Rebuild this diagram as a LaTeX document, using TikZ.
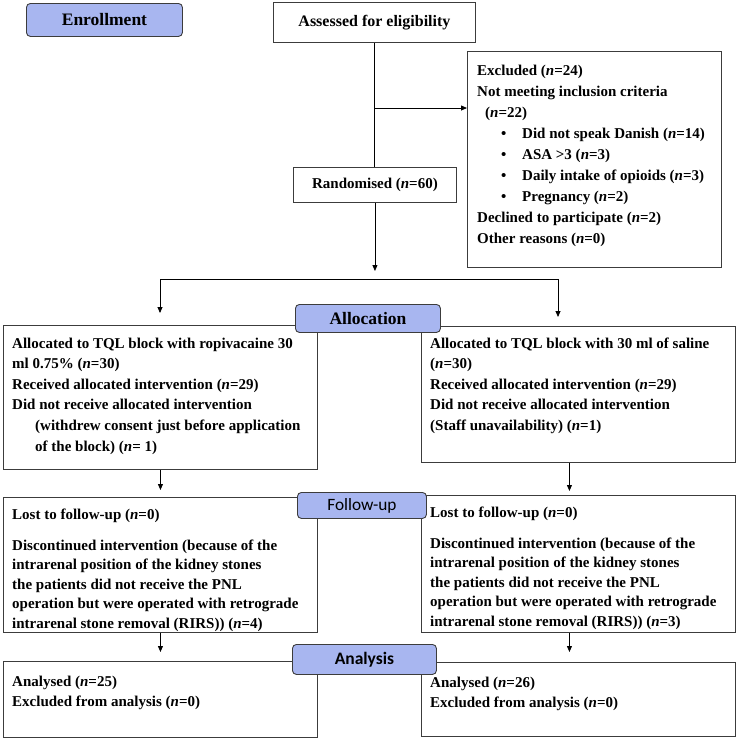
\documentclass[tikz,border=0pt]{standalone}
\usepackage{fontspec}
\setmainfont{Liberation Serif}
\newfontfamily\cali{Carlito}
\usetikzlibrary{arrows.meta}
\definecolor{lblue}{RGB}{168,182,240}
\definecolor{edgec}{RGB}{60,60,60}
\begin{document}
\begin{tikzpicture}[x=1pt,y=-1pt,
  box/.style={draw=edgec, line width=0.9pt, inner sep=0pt, anchor=north west, font=\fontsize{15}{18}\selectfont\bfseries},
  lbl/.style={draw=edgec, fill=lblue, rounded corners=4pt, line width=0.9pt, inner sep=0pt, anchor=north west},
  txt/.style={anchor=north west, inner sep=0pt, align=left},
  arr/.style={-{Triangle[length=6pt,width=5pt]}, draw=black, line width=0.8pt},
  ln/.style={draw=black, line width=0.8pt}]
\useasboundingbox (0,0) rectangle (738,740);
\fill[white] (0,0) rectangle (738,740);

% boxes
\node[box, minimum width=202pt, minimum height=40pt, font=\fontsize{16}{18}\selectfont\bfseries] (ass) at (273,2) {Assessed for eligibility};
\node[box, minimum width=254pt, minimum height=216pt] (exc) at (467,51) {};
\node[box, minimum width=163pt, minimum height=35pt] (rnd) at (293,167) {Randomised (\textit{n}=60)};
\node[box, minimum width=314pt, minimum height=144pt] (la) at (3,325) {};
\node[box, minimum width=314pt, minimum height=136pt] (ra) at (421,326) {};
\node[box, minimum width=314pt, minimum height=135pt] (lf) at (3,497) {};
\node[box, minimum width=314pt, minimum height=137pt] (rf) at (421,495) {};
\node[box, minimum width=314pt, minimum height=76pt] (lan) at (3,661) {};
\node[box, minimum width=314pt, minimum height=74pt] (ran) at (421,662) {};

% texts
\node[txt, font=\fontsize{15}{21}\selectfont\bfseries] (excT) at (477,60.5) {\strut Excluded (\textit{n}=24)\\
Not meeting inclusion criteria\\
\hspace*{8pt}(\textit{n}=22)\\
\hspace*{24pt}\makebox[21pt][l]{•}Did not speak Danish (\textit{n}=14)\\
\hspace*{24pt}\makebox[21pt][l]{•}ASA >3 (\textit{n}=3)\\
\hspace*{24pt}\makebox[21pt][l]{•}Daily intake of opioids (\textit{n}=3)\\
\hspace*{24pt}\makebox[21pt][l]{•}Pregnancy (\textit{n}=2)\\
Declined to participate (\textit{n}=2)\\
Other reasons (\textit{n}=0)};

\node[txt, font=\fontsize{15}{20.6}\selectfont\bfseries] (laT) at (12,333.5) {\strut Allocated to TQL block with ropivacaine 30\\
ml 0.75\% (\textit{n}=30)\\
Received allocated intervention (\textit{n}=29)\\
Did not receive allocated intervention\\
\hspace*{23pt}(withdrew consent just before application\\
\hspace*{23pt}of the block) (\textit{n}= 1)};

\node[txt, font=\fontsize{15}{20.6}\selectfont\bfseries] (raT) at (430,333.5) {\strut Allocated to TQL block with 30 ml of saline\\
(\textit{n}=30)\\
Received allocated intervention (\textit{n}=29)\\
Did not receive allocated intervention\\
(Staff unavailability) (\textit{n}=1)};

\node[txt, font=\fontsize{15}{19.5}\selectfont\bfseries] (lfT) at (12,505.3) {\strut Lost to follow-up (\textit{n}=0)\\[11.5pt]
Discontinued intervention (because of the\\
intrarenal position of the kidney stones\\
the patients did not receive the PNL\\
operation but were operated with retrograde\\
intrarenal stone removal (RIRS)) (\textit{n}=4)};

\node[txt, font=\fontsize{15}{19.5}\selectfont\bfseries] (rfT) at (430,503.3) {\strut Lost to follow-up (\textit{n}=0)\\[11.5pt]
Discontinued intervention (because of the\\
intrarenal position of the kidney stones\\
the patients did not receive the PNL\\
operation but were operated with retrograde\\
intrarenal stone removal (RIRS)) (\textit{n}=3)};

\node[txt, font=\fontsize{15}{20}\selectfont\bfseries] (lanT) at (12,672) {\strut Analysed (\textit{n}=25)\\
Excluded from analysis (\textit{n}=0)};

\node[txt, font=\fontsize{15}{20}\selectfont\bfseries] (ranT) at (430,673) {\strut Analysed (\textit{n}=26)\\
Excluded from analysis (\textit{n}=0)};

% connectors
\coordinate (brx) at (374,108);
\coordinate (hm) at (374,279);
\coordinate (hl) at (160,279);
\coordinate (hr) at (558,279);
\draw[ln] (ass.south) -- (ass.south |- rnd.north);
\draw[arr] (brx) -- (brx -| exc.west);
\draw[arr, shorten >=8pt] (rnd.south) -- (rnd.south |- hm);
\draw[ln] (hl) -- (hr);
\draw[arr, shorten >=12pt] (hl) -- (hl |- la.north);
\draw[arr, shorten >=9pt] (hr) -- (hr |- ra.north);
\draw[arr, shorten >=7pt] (la.south) -- (la.south |- lf.north);
\draw[arr, shorten >=4pt] ([xshift=-9pt]ra.south) -- ([xshift=-9pt]ra.south |- rf.north);
\draw[arr, shorten >=9pt] (lf.south) -- (lf.south |- lan.north);
\draw[arr, shorten >=10pt] ([xshift=-9pt]rf.south) -- ([xshift=-9pt]rf.south |- ran.north);

% stage labels
\node[lbl, minimum width=156pt, minimum height=33pt, font=\fontsize{17.5}{20}\selectfont\bfseries] (enr) at (26,3) {Enrollment};
\node[lbl, minimum width=145pt, minimum height=28pt, font=\fontsize{17.5}{20}\selectfont\bfseries] (alo) at (295,304) {Allocation};
\node[lbl, minimum width=129pt, minimum height=26pt, font=\cali\fontsize{17.3}{20}\selectfont] (fol) at (297,492) {Follow-up};
\node[lbl, minimum width=144pt, minimum height=30pt, font=\cali\bfseries\fontsize{17.5}{20}\selectfont] (ana) at (292,644) {Analysis};
\end{tikzpicture}
\end{document}
